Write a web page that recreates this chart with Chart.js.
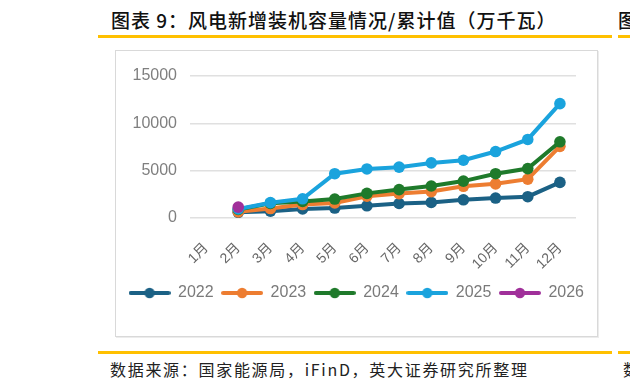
<!DOCTYPE html>
<html>
<head>
<meta charset="utf-8">
<script src="https://cdn.jsdelivr.net/npm/chart.js@4/dist/chart.umd.min.js"></script>
<style>
  html, body { margin: 0; padding: 0; width: 630px; height: 388px; overflow: hidden; background: #fff; }
  body { position: relative; font-family: 'Noto Sans CJK SC', sans-serif; }
  .title { position: absolute; left: 111px; top: 9px; line-height: 22px; font-size: 19px; font-weight: 500; color: #111; white-space: nowrap; letter-spacing: 1px; }
  .frag-t { position: absolute; left: 618px; top: 9px; line-height: 22px; font-size: 19px; font-weight: 500; color: #111; }
  .rule { position: absolute; height: 3px; background: #ffc000; }
  .box { position: absolute; left: 115px; top: 50px; width: 483px; height: 287px; box-sizing: border-box; border: 1px solid #d9d9d9; box-shadow: 1px 1px 0 #ececec; }
  .wrap { position: absolute; left: 116px; top: 51px; width: 481px; height: 285px; }
  .foot { position: absolute; left: 110px; top: 358px; line-height: 22px; font-size: 16px; color: #222; white-space: nowrap; letter-spacing: 1.7px; }
  .frag-f { position: absolute; left: 623px; top: 358px; line-height: 22px; font-size: 16px; color: #222; }
</style>
</head>
<body>
<div class="title">图表 9：风电新增装机容量情况/累计值（万千瓦）</div>
<div class="frag-t">图</div>
<div class="rule" style="left:98px; top:35px; width:514px;"></div>
<div class="rule" style="left:618px; top:35px; width:12px;"></div>
<div class="box"></div>
<div class="wrap"><canvas id="c" width="481" height="285"></canvas></div>
<div class="rule" style="left:98px; top:351px; width:514px;"></div>
<div class="rule" style="left:618px; top:351px; width:12px;"></div>
<div class="foot">数据来源：国家能源局，iFinD，英大证券研究所整理</div>
<div class="frag-f">数</div>
<script>
const months = ['1月','2月','3月','4月','5月','6月','7月','8月','9月','10月','11月','12月'];
const years = ['2022','2023','2024','2025','2026'];
const s2022 = [null, 600, 720, 950, 1050, 1290, 1530, 1640, 1920, 2110, 2250, 3760];
const s2023 = [null, 650, 1000, 1420, 1590, 2300, 2580, 2790, 3350, 3610, 4100, 7570];
const s2024 = [null, 900, 1550, 1750, 2000, 2600, 3000, 3380, 3900, 4680, 5220, 8050];
const s2025 = [null, 950, 1620, 2030, 4680, 5180, 5370, 5820, 6100, 7020, 8300, 12080];
const s2026 = [null, 1150, null, null, null, null, null, null, null, null, null, null];
const yTicks = [0, 5000, 10000, 15000];
const colors = ['#1b6185', '#ed7d31', '#1f7a2b', '#1aa3dd', '#a0309a'];
const series = [s2022, s2023, s2024, s2025, s2026];

function legendIcon(color) {
  const cv = document.createElement('canvas');
  cv.width = 42; cv.height = 12;
  const g = cv.getContext('2d');
  g.strokeStyle = color; g.lineWidth = 4; g.lineCap = 'round';
  g.beginPath(); g.moveTo(2, 6); g.lineTo(40, 6); g.stroke();
  g.fillStyle = color; g.beginPath(); g.arc(21, 6, 5.2, 0, Math.PI * 2); g.fill();
  return cv;
}

Chart.defaults.font.family = "'Liberation Sans', 'Noto Sans CJK SC', sans-serif";

new Chart(document.getElementById('c'), {
  type: 'line',
  data: {
    labels: months,
    datasets: series.map((d, i) => ({
      label: years[i],
      data: d,
      borderColor: colors[i],
      backgroundColor: colors[i],
      pointBackgroundColor: colors[i],
      pointBorderWidth: 0,
      pointRadius: 5.8,
      borderWidth: 4,
      tension: 0,
      order: series.length - i,
      yAxisID: 'y'
    }))
  },
  options: {
    responsive: false,
    animation: false,
    layout: { padding: { top: 25, bottom: 25, left: 0, right: 0 } },
    plugins: {
      tooltip: { enabled: false },
      legend: {
        position: 'bottom',
        labels: {
          usePointStyle: true,
          pointStyleWidth: 41,
          padding: 8,
          color: '#7a7a7a',
          font: { size: 16 },
          generateLabels: (chart) => chart.data.datasets.map((ds, i) => ({
            text: ds.label,
            pointStyle: legendIcon(ds.borderColor),
            fillStyle: ds.borderColor,
            strokeStyle: ds.borderColor,
            lineWidth: 0,
            fontColor: '#7a7a7a',
            hidden: false,
            datasetIndex: i
          }))
        }
      }
    },
    scales: {
      x: {
        offset: true,
        grid: { display: false },
        border: { display: false },
        ticks: { autoSkip: false, maxRotation: 45, minRotation: 45, color: '#666', font: { size: 14 }, padding: 14 },
        afterFit: (s) => { s.height = 59; }
      },
      y: {
        min: 0, max: 15000,
        afterBuildTicks: (s) => { s.ticks = yTicks.map(v => ({ value: v })); },
        grid: { color: '#e0e0e0', lineWidth: 1.5, drawTicks: false },
        border: { display: false },
        ticks: { color: '#7f7f7f', font: { size: 16 }, padding: 13, callback: (v) => String(v) },
        afterFit: (s) => { s.width = 74; }
      },
      y2: {
        position: 'right',
        display: true,
        grid: { display: false },
        border: { display: false },
        ticks: { display: false },
        afterFit: (s) => { s.width = 21; }
      }
    }
  }
});
</script>
</body>
</html>
